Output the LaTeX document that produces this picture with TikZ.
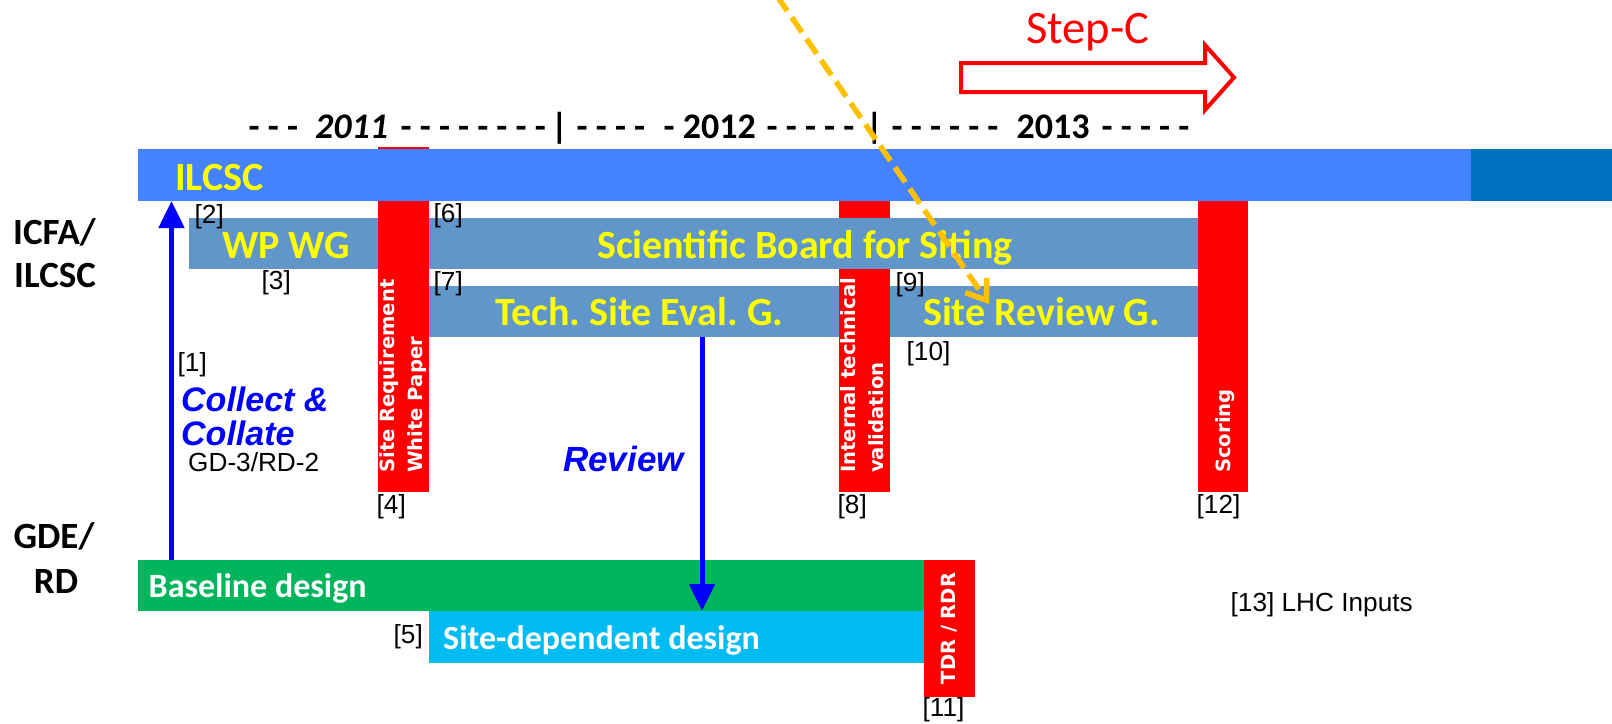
\documentclass[tikz,border=0pt]{standalone}
\usepackage{fontspec}
\setmainfont{Carlito}
\newfontfamily\labelfont{Liberation Sans}
\newfontfamily\tagfont{DejaVu Sans}
\usetikzlibrary{arrows.meta}

\definecolor{ilcscblue}{RGB}{69,130,255}
\definecolor{ilcscdark}{RGB}{0,112,192}
\definecolor{boardblue}{RGB}{97,150,202}
\definecolor{basegreen}{RGB}{0,181,92}
\definecolor{sitecyan}{RGB}{0,188,242}
\definecolor{labelyellow}{RGB}{255,255,0}
\definecolor{scanorange}{RGB}{255,192,0}
\definecolor{pureblue}{RGB}{0,0,255}
\definecolor{pured}{RGB}{255,0,0}

\frenchspacing
\begin{document}
\begin{tikzpicture}[x=1pt,y=-1pt,
  bar/.style={inner sep=0pt, outer sep=0pt, anchor=north west, draw=none},
  yearfont/.style={font=\fontsize{36}{43}\selectfont\bfseries, anchor=base west, inner sep=0pt},
  yellowlabel/.style={font=\fontsize{40}{48}\selectfont\bfseries, text=labelyellow, anchor=base west, inner sep=0pt},
  whitelabel/.style={font=\fontsize{34}{41}\selectfont\bfseries, text=white, anchor=base west, inner sep=0pt},
  grouplabel/.style={font=\fontsize{37}{44}\selectfont\bfseries, inner sep=0pt},
  reftag/.style={font=\labelfont\fontsize{26.2}{31}\selectfont, anchor=base west, inner sep=0pt},
  bartext/.style={font=\tagfont\bfseries\fontsize{19.6}{23}\selectfont, text=white, rotate=90, anchor=base west, inner sep=0pt},
  actionlabel/.style={font=\labelfont\bfseries\itshape\fontsize{34}{40}\selectfont, text=pureblue, anchor=base west, inner sep=0pt},
  bluearrow/.style={draw=pureblue, line width=5pt, -{Triangle[length=27pt,width=25pt]}},
  orangedash/.style={draw=scanorange, line width=5.5pt, dash pattern=on 18pt off 8pt,
    -{Straight Barb[length=18pt,width=26pt]}}
]
\useasboundingbox (0,0) rectangle (1612,723);
\fill[white] (0,0) rectangle (1612,723);

% ---- Step-C block arrow ----
\draw[pured, line width=4pt, fill=white, miter limit=10]
  (961,63) -- (1205,63) -- (1205,45) -- (1234,77.5) -- (1205,110) -- (1205,92) -- (961,92) -- cycle;
\node[font=\fontsize{46.5}{55}\selectfont, text=pured, anchor=base west, inner sep=0pt] (stepc) at (1026,43.5) {Step-C};

% ---- time axis ----
\node[yearfont] (y1) at (248.5,138) {- - -};
\node[yearfont] (y2011) at (315,138) {\itshape 2011};
\node[yearfont] (y3) at (400.5,138) {- - - - - - - -};
\node[yearfont, anchor=base] (ysep1) at (559.5,138) {|};
\node[yearfont] (y5) at (576.5,138) {- - - -};
\node[yearfont] (y2012) at (663.5,138) {- 2012};
\node[yearfont] (y7) at (766.5,138) {- - - - -};
\node[yearfont, anchor=base] (ysep2) at (874.5,138) {|};
\node[yearfont] (y9) at (891.5,138) {- - - - - -};
\node[yearfont] (y2013) at (1016.5,138) {2013};
\node[yearfont] (y11) at (1101.5,138) {- - - - -};

% ---- bars (drawing order sets the overlaps) ----
\node[bar, fill=boardblue, minimum width=769pt, minimum height=51pt] (tech) at (429,286) {};
\node[bar, fill=pured, minimum width=51pt, minimum height=342pt] (validation) at (839,150) {};
\node[bar, fill=boardblue, minimum width=1009pt, minimum height=51pt] (board) at (189,218) {};
\node[bar, fill=pured, minimum width=51pt, minimum height=345pt] (whitepaper) at (378,147) {};
\node[bar, fill=pured, minimum width=50pt, minimum height=342pt] (scoring) at (1198,150) {};
\node[bar, fill=ilcscblue, minimum width=1333pt, minimum height=52pt] (ilcsc) at (138,149) {};
\node[bar, fill=ilcscdark, minimum width=141pt, minimum height=52pt] (ilcscend) at (1471,149) {};
\node[bar, fill=basegreen, minimum width=786pt, minimum height=51pt] (baseline) at (138,560) {};
\node[bar, fill=sitecyan, minimum width=495pt, minimum height=52pt] (sitedep) at (429,611) {};
\node[bar, fill=pured, minimum width=51pt, minimum height=137pt] (tdr) at (924,560) {};

% ---- bar labels ----
\node[yellowlabel] (t-ilcsc) at (175,190) {ILCSC};
\node[yellowlabel] (t-wpwg) at (222,258) {WP WG};
\node[yellowlabel] (t-board) at (597,258) {Scientific Board for Siting};
\node[yellowlabel] (t-tech) at (495,325) {Tech. Site Eval. G.};
\node[yellowlabel] (t-review) at (923,325) {Site Review G.};
\node[whitelabel] (t-baseline) at (148.5,597) {Baseline design};
\node[whitelabel] (t-sitedep) at (443,649) {Site-dependent design};

\node[bartext] (t-wp1) at (394,473) {Site Requirement};
\node[bartext] (t-wp2) at (422,473) {White Paper};
\node[bartext] (t-val1) at (855,473) {Internal technical};
\node[bartext] (t-val2) at (883,473) {validation};
\node[bartext] (t-score) at (1230,473) {Scoring};
\node[bartext, anchor=center, font=\tagfont\bfseries\fontsize{19.5}{23}\selectfont] (t-tdr) at (949.5,628.5) {TDR / RDR};

% ---- group labels ----
\node[grouplabel, anchor=base west] (g-icfa) at (13,244) {ICFA/};
\node[grouplabel, anchor=base west] (g-ilcsc) at (14,287) {ILCSC};
\node[grouplabel, anchor=base] (g-gde) at (54,548) {GDE/};
\node[grouplabel, anchor=base] (g-rd) at (56,593) {RD};

% ---- reference tags ----
\node[reftag] (r1) at (177.5,371.5) {[1]};
\node[reftag] (r2) at (194.5,223) {[2]};
\node[reftag] (r3) at (261.5,289.5) {[3]};
\node[reftag] (r4) at (376.5,513.5) {[4]};
\node[reftag] (r5) at (393.5,643.5) {[5]};
\node[reftag] (r6) at (433.5,222.5) {[6]};
\node[reftag] (r7) at (433.5,290.5) {[7]};
\node[reftag] (r8) at (837.5,513.5) {[8]};
\node[reftag] (r9) at (895.5,291.5) {[9]};
\node[reftag] (r10) at (906.5,360.5) {[10]};
\node[reftag] (r11) at (922.5,716.5) {[11]};
\node[reftag] (r12) at (1196.5,513.5) {[12]};
\node[reftag] (r13) at (1230.5,611.5) {[13] LHC Inputs};

% ---- actions ----
\node[actionlabel] (a-collect) at (181,411) {Collect \&};
\node[actionlabel] (a-collate) at (181,445) {Collate};
\node[reftag] (a-gd) at (188,471) {GD-3/RD-2};
\node[actionlabel, font=\labelfont\bfseries\itshape\fontsize{35}{41}\selectfont] (a-review) at (563,471.5) {Review};

% ---- connectors ----
\coordinate (collectx) at (171.5,0);
\coordinate (reviewx) at (702,0);
\draw[bluearrow] (baseline.north -| collectx) -- (ilcsc.south -| collectx);
\draw[bluearrow] (tech.south -| reviewx) -- (sitedep.north -| reviewx);

\coordinate (scanstart) at (777,-4);
\coordinate (scanend) at (989,304);
\draw[orangedash] (scanstart) -- (scanend);
\end{tikzpicture}
\end{document}
